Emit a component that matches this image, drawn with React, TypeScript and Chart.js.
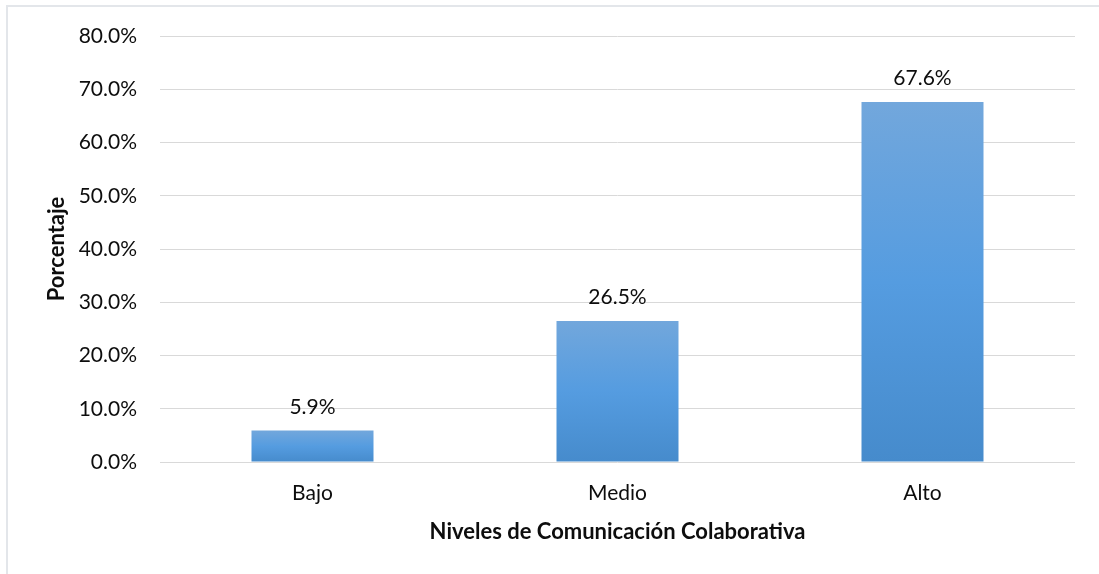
import React, { useEffect, useRef } from "react";
import { Chart, registerables } from "chart.js";

Chart.register(...registerables);

const categories = ["Bajo", "Medio", "Alto"];
const values = [5.9, 26.5, 67.6];
const yTicks = [0, 10, 20, 30, 40, 50, 60, 70, 80];
const xTitle = "Niveles de Comunicación Colaborativa";
const yTitle = "Porcentaje";

const FONT = "Lato, 'Open Sans', sans-serif";
const TXT = "#0d0d0d";

const labelPlugin = {
  id: "barLabels",
  afterDatasetsDraw(chart: any) {
    const ctx = chart.ctx;
    const meta = chart.getDatasetMeta(0);
    ctx.save();
    ctx.font = `21px ${FONT}`;
    ctx.fillStyle = TXT;
    ctx.textAlign = "center";
    ctx.textBaseline = "alphabetic";
    meta.data.forEach((bar: any, i: number) => {
      ctx.fillText(values[i].toFixed(1) + "%", bar.x, bar.y - 17);
    });
    ctx.restore();
  },
};

export default function App() {
  const ref = useRef<HTMLCanvasElement>(null);
  useEffect(() => {
    if (!ref.current) return;
    const chart = new Chart(ref.current, {
      type: "bar",
      data: {
        labels: categories,
        datasets: [
          {
            data: values,
            backgroundColor: (c: any) => {
              const ch = c.chart;
              const ys = ch.scales?.y;
              if (!ys || c.parsed == null) return "#5b9bd5";
              const top = ys.getPixelForValue(c.parsed.y);
              const bottom = ys.getPixelForValue(0);
              if (!isFinite(top) || !isFinite(bottom) || bottom - top < 1) return "#5b9bd5";
              const g = ch.ctx.createLinearGradient(0, top, 0, bottom);
              g.addColorStop(0, "#72a7dc");
              g.addColorStop(0.5, "#559ce0");
              g.addColorStop(1, "#468bcc");
              return g;
            },
            borderWidth: 0,
            barPercentage: 0.8,
            categoryPercentage: 0.5,
          },
        ],
      },
      options: {
        animation: false,
        responsive: false,
        maintainAspectRatio: false,
        layout: { padding: { top: 36, right: 24, bottom: 0, left: 0 } },
        plugins: { legend: { display: false }, tooltip: { enabled: false } },
        scales: {
          x: {
            grid: { display: false, drawTicks: false },
            border: { display: false },
            ticks: { color: TXT, font: { family: FONT, size: 21 }, padding: 19 },
            title: {
              display: true,
              text: xTitle,
              color: TXT,
              font: { family: FONT, size: 22, weight: "bold" },
              padding: { top: 0, bottom: 29 },
            },
            afterFit: (s: any) => {
              s.height = 112;
            },
          },
          y: {
            min: 0,
            max: 80,
            afterBuildTicks: (s: any) => {
              s.ticks = yTicks.map((v) => ({ value: v }));
            },
            grid: { color: "#d9d9d9", lineWidth: 1, drawTicks: false },
            border: { display: false },
            ticks: {
              color: TXT,
              font: { family: FONT, size: 21 },
              padding: 23,
              callback: (v: any) => Number(v).toFixed(1) + "%",
            },
            title: {
              display: true,
              text: yTitle,
              color: TXT,
              font: { family: FONT, size: 22, weight: "bold" },
              padding: { top: 44, bottom: 0 },
            },
            afterFit: (s: any) => {
              s.width = 160;
            },
          },
        },
      },
      plugins: [labelPlugin],
    });
    return () => chart.destroy();
  }, []);
  return (
    <div style={{ position: "absolute", left: 0, top: 0, width: 1099, height: 574, background: "#fff", overflow: "hidden" }}>
      <div
        style={{
          position: "absolute",
          left: 6,
          top: 5,
          width: 1200,
          height: 700,
          borderTop: "2px solid #e3e6ea",
          borderLeft: "2px solid #e3e6ea",
          boxSizing: "border-box",
        }}
      />
      <canvas ref={ref} width={1099} height={574} style={{ position: "absolute", left: 0, top: 0, display: "block" }} />
    </div>
  );
}
